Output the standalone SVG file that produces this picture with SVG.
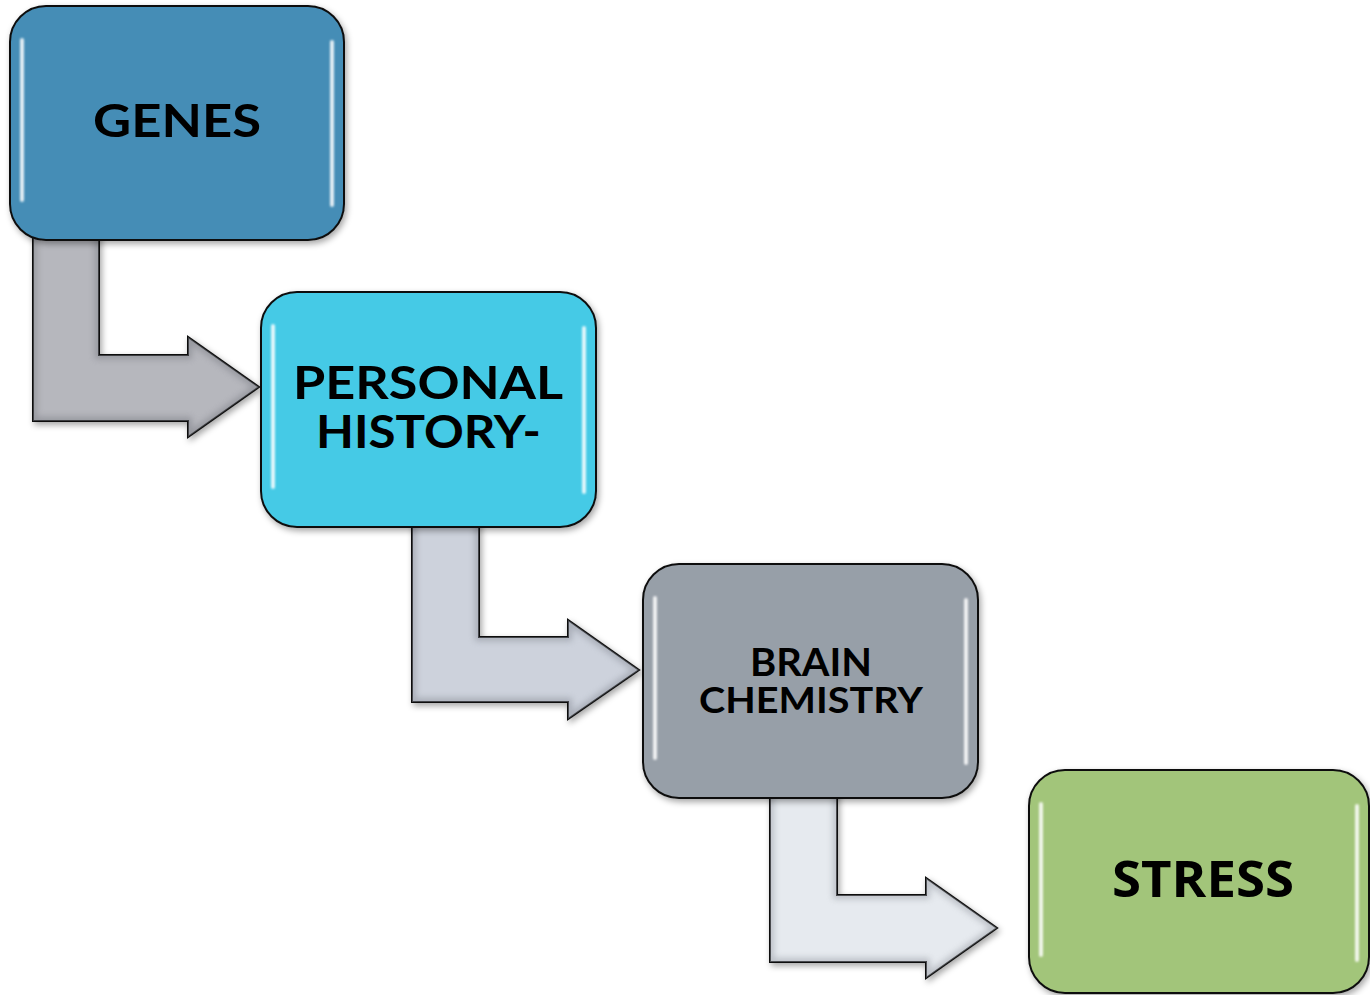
<svg xmlns="http://www.w3.org/2000/svg" width="1370" height="995" viewBox="0 0 1370 995">
<style>
.box{stroke:#111;stroke-width:2;filter:url(#shadow)}
.arrow{stroke:#111;stroke-width:2;stroke-linejoin:miter;filter:url(#shadow)}
.bevel{fill:none;stroke-width:8;stroke-linejoin:miter;opacity:0.55}
.hl{fill:none;stroke:#fff;stroke-width:4;stroke-linecap:round;opacity:0.85;filter:url(#soft)}
.lbl{font-family:Lato,"Liberation Sans",sans-serif;font-weight:bold;fill:#000;text-anchor:middle}
.lbl2{font-family:"Open Sans","Liberation Sans",sans-serif;font-weight:bold;fill:#000;text-anchor:middle}
</style>
<defs>
<filter id="shadow" x="-10%" y="-10%" width="125%" height="125%">
<feDropShadow dx="2" dy="3" stdDeviation="3" flood-color="#000" flood-opacity="0.35"/>
</filter>
<filter id="soft"><feGaussianBlur stdDeviation="1"/></filter>
<filter id="inner" x="-5%" y="-5%" width="110%" height="110%">
<feGaussianBlur stdDeviation="3"/>
</filter>
<clipPath id="c1"><path d="M33,230 L99,230 L99,355 L188,355 L188,337 L259,387 L188,437 L188,421 L33,421 Z"/></clipPath>
<clipPath id="c2"><path d="M412,520 L479,520 L479,637 L568,637 L568,620 L639,670 L568,719 L568,702 L412,702 Z"/></clipPath>
<clipPath id="c3"><path d="M770,790 L837,790 L837,895 L926,895 L926,878 L997,928 L926,978 L926,962 L770,962 Z"/></clipPath>
</defs>
<rect width="1370" height="995" fill="#fff"/>
<g id="connectors">
<g id="arrow1">
<path class="arrow" fill="#b6b7bd" d="M33,230 L99,230 L99,355 L188,355 L188,337 L259,387 L188,437 L188,421 L33,421 Z"/>
<path class="bevel" stroke="#7d7f86" clip-path="url(#c1)" filter="url(#inner)" d="M33,230 L99,230 L99,355 L188,355 L188,337 L259,387 L188,437 L188,421 L33,421 Z"/>
</g>
<g id="arrow2">
<path class="arrow" fill="#cdd2dc" d="M412,520 L479,520 L479,637 L568,637 L568,620 L639,670 L568,719 L568,702 L412,702 Z"/>
<path class="bevel" stroke="#8a8f99" clip-path="url(#c2)" filter="url(#inner)" d="M412,520 L479,520 L479,637 L568,637 L568,620 L639,670 L568,719 L568,702 L412,702 Z"/>
</g>
<g id="arrow3">
<path class="arrow" fill="#e6eaef" d="M770,790 L837,790 L837,895 L926,895 L926,878 L997,928 L926,978 L926,962 L770,962 Z"/>
<path class="bevel" stroke="#9a9ea6" clip-path="url(#c3)" filter="url(#inner)" d="M770,790 L837,790 L837,895 L926,895 L926,878 L997,928 L926,978 L926,962 L770,962 Z"/>
</g>
</g>
<g id="genes">
<rect class="box" x="10" y="6" width="334" height="234" rx="36" fill="#458db6"/>
<path class="hl" d="M22,40 L22,200 M332,42 L332,205"/>
<text class="lbl" x="177" y="137" font-size="45" textLength="168" lengthAdjust="spacingAndGlyphs">GENES</text>
</g>
<g id="personal-history">
<rect class="box" x="261" y="292" width="335" height="235" rx="36" fill="#45cae6"/>
<path class="hl" d="M273,326 L273,487 M584,328 L584,492"/>
<text class="lbl" x="428" y="399" font-size="46" textLength="270" lengthAdjust="spacingAndGlyphs">PERSONAL</text>
<text class="lbl" x="428.5" y="448" font-size="46" textLength="225" lengthAdjust="spacingAndGlyphs">HISTORY-</text>
</g>
<g id="brain-chemistry">
<rect class="box" x="643" y="564" width="335" height="234" rx="36" fill="#979fa8"/>
<path class="hl" d="M655,598 L655,758 M966,600 L966,763"/>
<text class="lbl" x="811" y="676" font-size="39" textLength="122" lengthAdjust="spacingAndGlyphs">BRAIN</text>
<text class="lbl" x="811" y="713" font-size="37" textLength="224" lengthAdjust="spacingAndGlyphs">CHEMISTRY</text>
</g>
<g id="stress">
<rect class="box" x="1029" y="770" width="340" height="223" rx="36" fill="#a2c57a"/>
<path class="hl" d="M1041,804 L1041,955 M1357,806 L1357,960"/>
<text class="lbl2" x="1203" y="897" font-size="51" textLength="182" lengthAdjust="spacingAndGlyphs">STRESS</text>
</g>
</svg>
